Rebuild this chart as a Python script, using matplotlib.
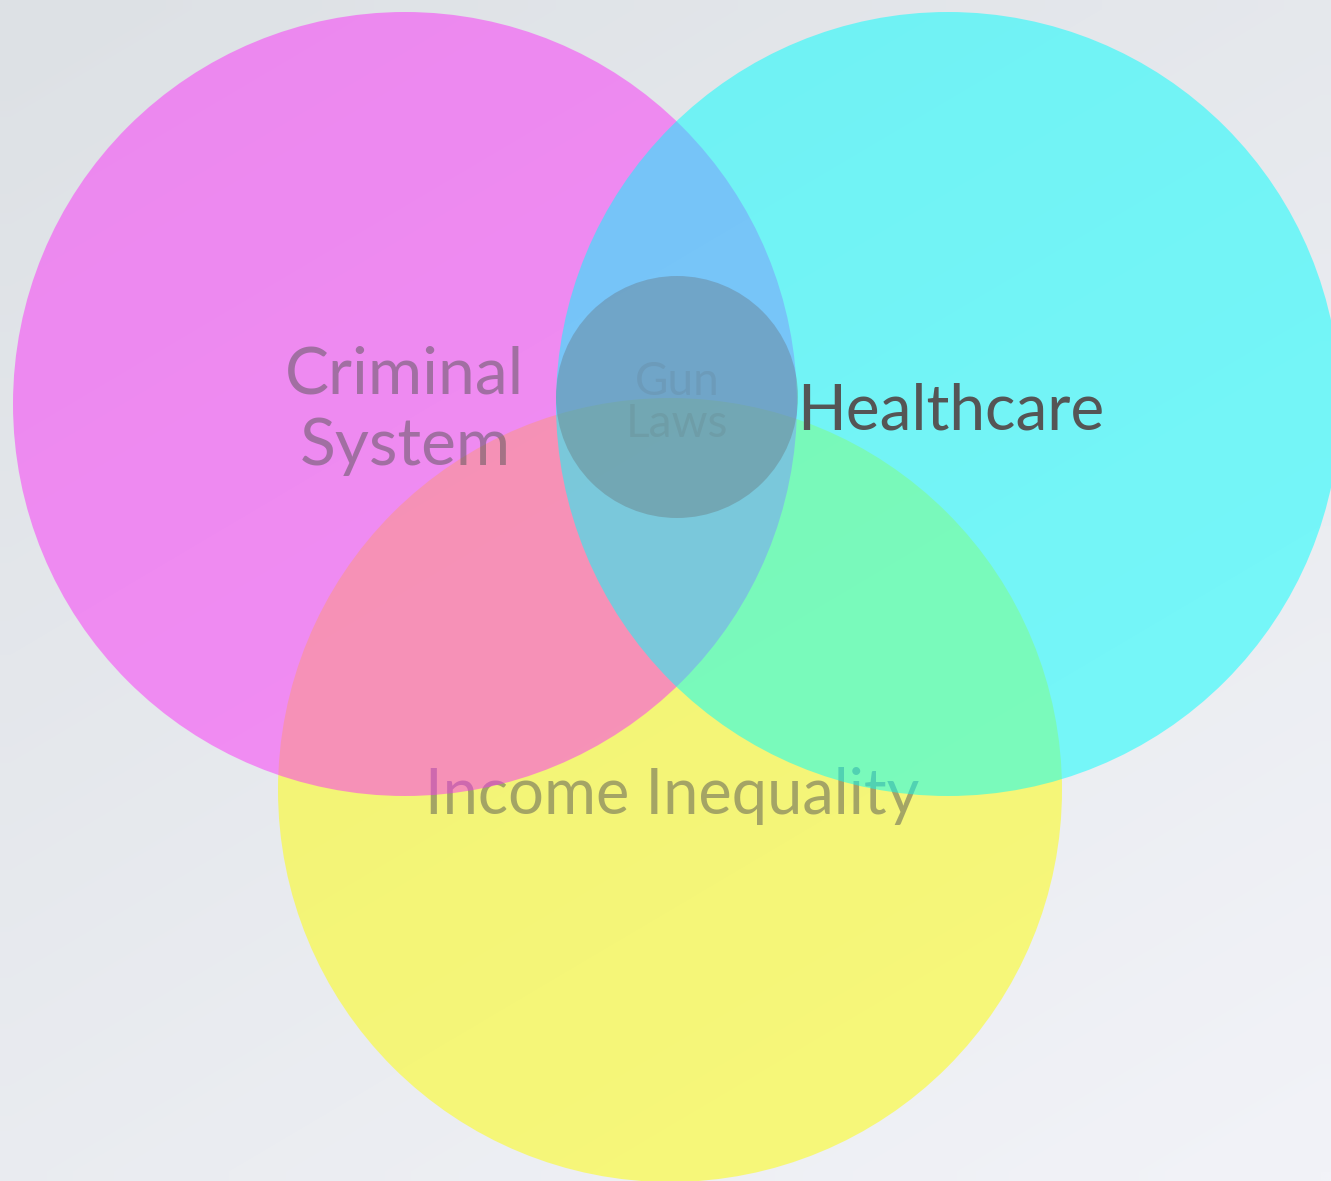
import matplotlib
matplotlib.use("Agg")
import matplotlib.pyplot as plt
from matplotlib.patches import Circle
import numpy as np

# --- data: three big sets plus the small overlap set (pixel-space layout) ---
LABELS = ["Criminal\nSystem", "Healthcare", "Income Inequality"]
CENTERS_X = [405, 948, 670]
CENTERS_Y = [404, 404, 790]
RADII = [392, 392, 392]
COLORS = ["#fa30f8", "#00ffff", "#ffff00"]
CORE_LABEL = "Gun\nLaws"
CORE_X, CORE_Y, CORE_R = 677, 397, 121

W, H = 1331, 1181
FONT = "Lato"

fig = plt.figure(figsize=(W / 100, H / 100), dpi=100)
ax = fig.add_axes([0, 0, 1, 1])
ax.set_xlim(0, W)
ax.set_ylim(H, 0)
ax.set_aspect("equal")
ax.axis("off")

# soft diagonal background gradient
gx, gy = np.meshgrid(np.linspace(0, 1, 64), np.linspace(0, 1, 64))
t = (gx * 0.4 + gy * 0.6)
top = np.array([221, 225, 229]) / 255
bot = np.array([242, 243, 248]) / 255
bg = top[None, None, :] * (1 - t[..., None]) + bot[None, None, :] * t[..., None]
ax.imshow(bg, extent=[0, W, H, 0], zorder=0, interpolation="bilinear")

# yellow first, text on it, then magenta and cyan on top
order = [2, 0, 1]
for z, i in enumerate(order):
    ax.add_patch(Circle((CENTERS_X[i], CENTERS_Y[i]), RADII[i], color=COLORS[i],
                        alpha=0.5, lw=0, zorder=2 + 2 * z))


def label(x, y, s, size, alpha, z):
    # y is the baseline in pixel coords
    ax.text(x, y, s, ha="center", va="baseline", fontsize=size, family=FONT,
            color="#555555", alpha=alpha, zorder=z)


# income inequality label sits under the other two circles
label(CENTERS_X[2] + 2, 814, LABELS[2], 45.5, 0.5, 3)
crim, syst = LABELS[0].split("\n")
label(CENTERS_X[0], 393, crim, 47.5, 0.5, 5)
label(CENTERS_X[0], 465, syst, 47.5, 0.5, 5)

# small core circle
ax.add_patch(Circle((CORE_X, CORE_Y), CORE_R, color="#615c5c", alpha=0.3,
                    lw=0, zorder=8))
gun, laws = CORE_LABEL.split("\n")
label(CORE_X, 395, gun, 33, 0.12, 9)
label(CORE_X, 437, laws, 33, 0.12, 9)

label(CENTERS_X[1] + 3, 429, LABELS[1], 46, 1.0, 10)

fig.savefig("out.png", dpi=100)
